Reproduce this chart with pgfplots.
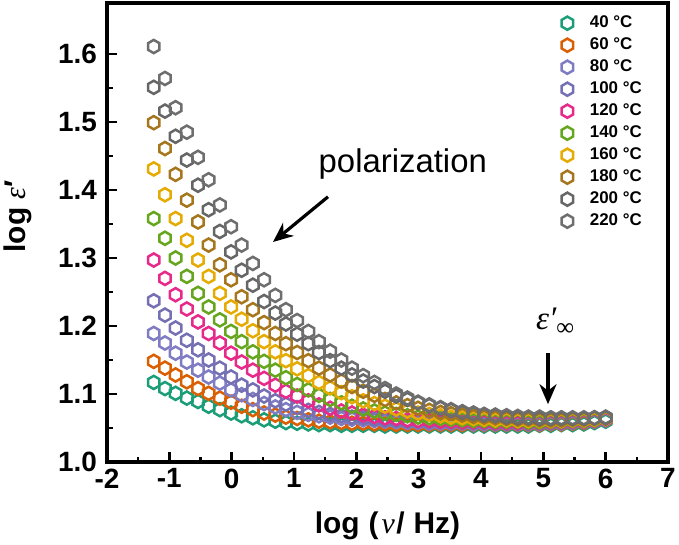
\documentclass[border=0pt]{standalone}
\usepackage{pgfplots}
\pgfplotsset{compat=1.18}
\usepackage{pgfplotstable}
\usetikzlibrary{arrows.meta}
\usepackage{fontspec}
\setmainfont{Liberation Sans}
\newfontfamily\seriffont{Liberation Serif}

\definecolor{c40}{HTML}{1B9E77}
\definecolor{c60}{HTML}{D95F02}
\definecolor{c80}{HTML}{7F7CC4}
\definecolor{c100}{HTML}{7570B3}
\definecolor{c120}{HTML}{E7298A}
\definecolor{c140}{HTML}{66A61E}
\definecolor{c160}{HTML}{E6AB02}
\definecolor{c180}{HTML}{A6761D}
\definecolor{c200}{HTML}{666666}
\definecolor{c220}{HTML}{6E6E6E}

% open hexagon, pointed at top and bottom
\pgfdeclareplotmark{hexagon}{%
  \pgfpathmoveto{\pgfpointpolar{90}{\pgfplotmarksize}}%
  \pgfpathlineto{\pgfpointpolar{150}{\pgfplotmarksize}}%
  \pgfpathlineto{\pgfpointpolar{210}{\pgfplotmarksize}}%
  \pgfpathlineto{\pgfpointpolar{270}{\pgfplotmarksize}}%
  \pgfpathlineto{\pgfpointpolar{330}{\pgfplotmarksize}}%
  \pgfpathlineto{\pgfpointpolar{30}{\pgfplotmarksize}}%
  \pgfpathclose
  \pgfusepathqstroke
}

% log eps' versus log frequency, one column per temperature
\pgfplotstableread{
x     t40   t60   t80   t100  t120  t140  t160  t180  t200  t220
-1.25 1.117 1.148 1.189 1.237 1.297 1.358 1.431 1.499 1.551 1.611
-1.07 1.108 1.138 1.175 1.216 1.270 1.329 1.393 1.461 1.516 1.564
-0.90 1.101 1.128 1.160 1.197 1.246 1.300 1.358 1.423 1.479 1.521
-0.72 1.094 1.118 1.147 1.179 1.225 1.273 1.326 1.385 1.444 1.485
-0.54 1.089 1.108 1.135 1.165 1.206 1.248 1.297 1.353 1.407 1.448
-0.37 1.082 1.101 1.125 1.150 1.189 1.228 1.273 1.319 1.371 1.415
-0.19 1.077 1.094 1.116 1.138 1.175 1.209 1.248 1.290 1.339 1.378
-0.01 1.072 1.088 1.106 1.125 1.160 1.192 1.228 1.268 1.309 1.346
0.16  1.068 1.082 1.099 1.113 1.147 1.177 1.210 1.243 1.282 1.319
0.34  1.065 1.077 1.092 1.106 1.135 1.162 1.193 1.224 1.260 1.292
0.52  1.062 1.072 1.086 1.097 1.123 1.148 1.177 1.205 1.236 1.268
0.70  1.060 1.069 1.081 1.090 1.113 1.135 1.162 1.189 1.219 1.245
0.87  1.058 1.066 1.077 1.085 1.104 1.124 1.149 1.174 1.203 1.224
1.05  1.057 1.064 1.073 1.080 1.097 1.114 1.137 1.161 1.188 1.208
1.23  1.056 1.062 1.070 1.076 1.090 1.106 1.127 1.149 1.174 1.192
1.40  1.055 1.060 1.068 1.073 1.084 1.098 1.117 1.138 1.161 1.177
1.58  1.055 1.059 1.066 1.070 1.079 1.092 1.109 1.128 1.149 1.163
1.76  1.054 1.058 1.064 1.068 1.075 1.087 1.102 1.119 1.138 1.150
1.93  1.054 1.057 1.063 1.066 1.072 1.082 1.096 1.111 1.128 1.138
2.11  1.054 1.057 1.062 1.065 1.069 1.078 1.090 1.104 1.119 1.127
2.29  1.054 1.056 1.061 1.063 1.067 1.075 1.086 1.098 1.111 1.117
2.46  1.053 1.056 1.060 1.062 1.065 1.072 1.082 1.092 1.104 1.108
2.64  1.053 1.055 1.059 1.061 1.064 1.070 1.078 1.087 1.097 1.100
2.82  1.053 1.055 1.058 1.060 1.062 1.068 1.075 1.083 1.092 1.094
2.99  1.053 1.055 1.058 1.060 1.061 1.066 1.072 1.079 1.087 1.088
3.17  1.053 1.055 1.057 1.059 1.061 1.065 1.070 1.076 1.083 1.084
3.35  1.053 1.055 1.057 1.059 1.060 1.064 1.068 1.073 1.079 1.080
3.52  1.053 1.055 1.057 1.058 1.060 1.063 1.066 1.071 1.076 1.077
3.70  1.053 1.055 1.057 1.058 1.059 1.062 1.065 1.069 1.073 1.074
3.88  1.053 1.055 1.056 1.058 1.059 1.061 1.064 1.067 1.071 1.072
4.05  1.053 1.055 1.056 1.058 1.059 1.061 1.063 1.066 1.069 1.070
4.23  1.053 1.055 1.056 1.057 1.058 1.060 1.062 1.065 1.068 1.069
4.41  1.053 1.055 1.056 1.057 1.058 1.060 1.062 1.064 1.066 1.068
4.59  1.053 1.055 1.056 1.057 1.058 1.060 1.061 1.063 1.065 1.067
4.76  1.053 1.055 1.056 1.057 1.058 1.059 1.061 1.063 1.065 1.066
4.94  1.054 1.055 1.056 1.057 1.058 1.059 1.061 1.062 1.064 1.066
5.12  1.054 1.056 1.057 1.058 1.059 1.060 1.061 1.062 1.064 1.065
5.29  1.055 1.056 1.057 1.058 1.059 1.060 1.061 1.062 1.064 1.065
5.47  1.055 1.057 1.058 1.059 1.060 1.061 1.062 1.063 1.064 1.065
5.65  1.056 1.058 1.059 1.060 1.060 1.061 1.062 1.063 1.064 1.065
5.82  1.058 1.060 1.060 1.061 1.061 1.062 1.063 1.064 1.065 1.065
6.00  1.060 1.062 1.062 1.063 1.063 1.064 1.064 1.065 1.065 1.066
}\datatable

\begin{document}
\begin{tikzpicture}
\begin{axis}[
  scale only axis,
  width=561bp, height=459bp,
  xmin=-2, xmax=7, ymin=1.0, ymax=1.675,
  xtick={-2,-1,0,1,2,3,4,5,6,7},
  ytick={1.0,1.1,1.2,1.3,1.4,1.5,1.6},
  minor x tick num=1, minor y tick num=1,
  tick align=inside, xtick pos=bottom, ytick pos=left,
  major tick length=10bp, minor tick length=5.5bp,
  major tick style={black, line width=2.6bp},
  minor tick style={black, line width=2.6bp},
  axis background/.style={draw=black, line width=3.4bp},
  /pgf/number format/assume math mode=true,
  yticklabel style={/pgf/number format/fixed, /pgf/number format/fixed zerofill,
    /pgf/number format/precision=1, xshift=-6.5bp},
  ticklabel style={font=\fontsize{28}{30}\selectfont\bfseries},
  xticklabel style={yshift=-3bp},
  every axis x label/.style={at={(axis description cs:0.5,0)}, anchor=base, yshift=-71bp},
  every axis y label/.style={at={(axis description cs:0,0.5)}, xshift=-89bp, yshift=16bp, anchor=center, rotate=90},
  xlabel={\fontsize{30}{32}\selectfont\bfseries log\hspace{0.3em}(\hspace{0.1em}{\seriffont\mdseries\itshape ν}\hspace{0.05em}/\hspace{0.3em}Hz)},
  ylabel={\fontsize{30}{32}\selectfont\bfseries log {\seriffont\mdseries\itshape ε}′},
  legend cell align=left,
  legend image code/.code={\path[draw=none, fill=none] (-8bp,0bp) -- (21bp,0bp); \draw[#1] plot coordinates {(0bp,0bp)};},
  legend style={draw=none, fill=none, at={(rel axis cs:0.806,0.976)}, anchor=north west,
    font=\fontsize{17}{17}\selectfont\bfseries, row sep=4bp, inner sep=0pt,
    nodes={inner sep=1.5bp, text height=12bp, text depth=3bp}},
  clip=false,
]
\pgfplotsinvokeforeach{40,60,80,100,120,140,160,180,200,220}{
  \addplot[only marks, mark=hexagon, mark size=6.6bp, color=c#1,
    mark options={solid, line width=2.5bp}] table[x=x, y=t#1] {\datatable};
  \addlegendentry{#1 °C}
}
\node[anchor=base west, font=\fontsize{33}{36}\selectfont] at (axis cs:1.34,1.425) {polarization};
\draw[line width=3.2bp, -{Stealth[length=20bp, width=17bp]}] (axis cs:1.545,1.390) -- (axis cs:0.663,1.3235);
\node[font=\fontsize{33}{34}\selectfont\seriffont\itshape] at (axis cs:5.19,1.206) {ε′\raisebox{-0.2em}{\fontsize{25}{25}\selectfont\upshape ∞}};
\draw[line width=3.2bp, -{Stealth[length=20bp, width=17bp]}] (axis cs:5.075,1.160) -- (axis cs:5.075,1.085);
% heavy frame round the plotting area
\draw[black, line width=3.4bp] (rel axis cs:1,0) -- (rel axis cs:1,1);
\draw[black, line width=3.4bp] (rel axis cs:0,1) -- (rel axis cs:1,1);
\draw[black, line width=3.4bp] (rel axis cs:0,0) -- (rel axis cs:0,1);
\draw[black, line width=3.4bp] (rel axis cs:0,0) -- (rel axis cs:1,0);
\end{axis}
\pgfresetboundingbox
\useasboundingbox ([shift={(-107bp,-82bp)}]current axis.south west) rectangle ([shift={(11bp,3bp)}]current axis.north east);
\end{tikzpicture}
\end{document}
